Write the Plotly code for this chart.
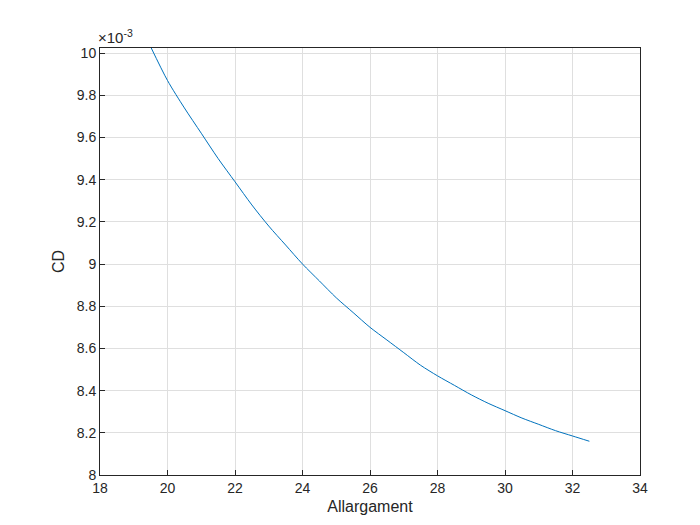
import plotly.graph_objects as go

allargament = [19.5, 20, 20.5, 21, 21.5, 22, 22.5, 23, 23.5, 24, 24.5, 25, 25.5, 26, 26.5,
               27, 27.5, 28, 28.5, 29, 29.5, 30, 30.5, 31, 31.5, 32, 32.5]
cd_e3 = [10.03, 9.87, 9.74, 9.62, 9.50, 9.39, 9.28, 9.18, 9.09, 9.00, 8.92, 8.84, 8.77, 8.70, 8.64,
         8.58, 8.52, 8.47, 8.425, 8.38, 8.34, 8.305, 8.27, 8.24, 8.21, 8.185, 8.16]
y_ticks = [8, 8.2, 8.4, 8.6, 8.8, 9, 9.2, 9.4, 9.6, 9.8, 10]
y_labels = ["8", "8.2", "8.4", "8.6", "8.8", "9", "9.2", "9.4", "9.6", "9.8", "10"]

fig = go.Figure(go.Scatter(x=allargament, y=cd_e3, mode="lines",
                           line=dict(color="#0072BD", width=1, shape="spline", smoothing=0.8)))
ax = dict(showline=True, linecolor="#262626", linewidth=1, mirror=True, ticks="inside",
          ticklen=5, tickcolor="#262626", gridcolor="#DFDFDF", zeroline=False,
          tickfont=dict(size=14, color="#262626"))
fig.update_layout(
    width=700, height=525, plot_bgcolor="white", paper_bgcolor="white",
    margin=dict(l=92, r=68, t=40, b=58, autoexpand=False), showlegend=False,
    font=dict(family="Liberation Sans, Arial", color="#262626"),
    xaxis=dict(range=[18, 34], dtick=2, title=dict(text="Allargament", font=dict(size=16), standoff=6), **ax),
    yaxis=dict(range=[8, 10.024], tickvals=y_ticks, ticktext=y_labels,
               title=dict(text="CD", font=dict(size=16), standoff=8), **ax),
    annotations=[dict(text="×10<sup>-3</sup>", x=0, y=1, xref="paper", yref="paper",
                      xanchor="left", yanchor="bottom", showarrow=False, xshift=-4,
                      font=dict(size=15, color="#262626"))],
)
fig.write_html("out.html")
